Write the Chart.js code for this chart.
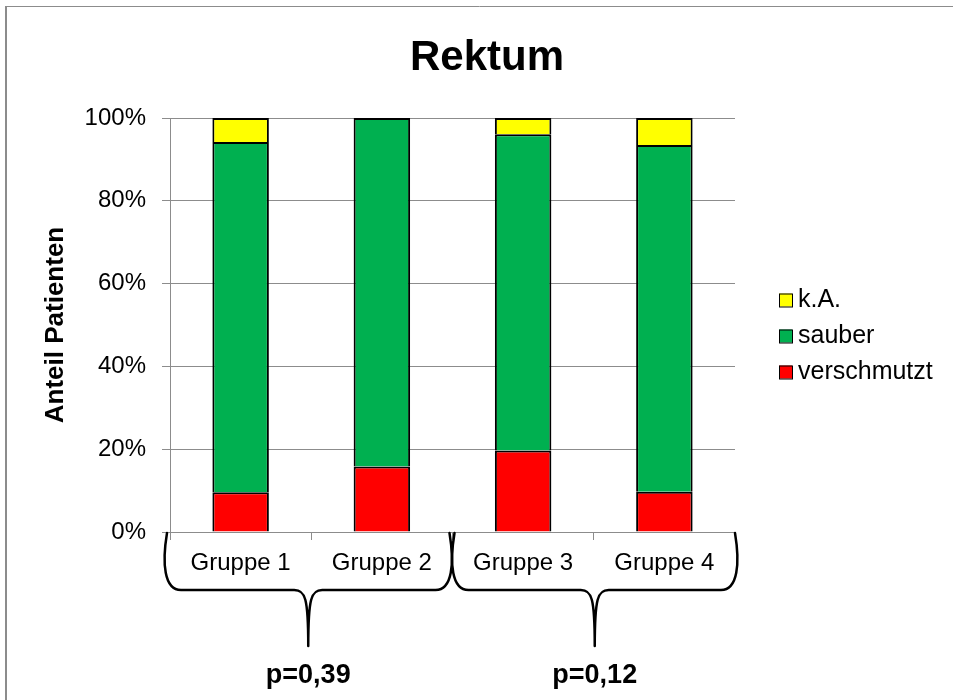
<!DOCTYPE html>
<html>
<head>
    <title>Rektum</title>
    <style>
        * {
            margin: 0;
            padding: 0;
            box-sizing: border-box;
        }

        body {
            background: #fff;
        }

        .chart-box {
            position: relative;
            width: 953px;
            height: 700px;
        }
    </style>
</head>
<body>
    <div class="chart-box">
        <canvas id="rektumChart"></canvas>
    </div>
    <script src="https://cdn.jsdelivr.net/npm/chart.js"></script>
    <script>
        // Werte (Anteil in %)
        var gruppen = ['Gruppe 1', 'Gruppe 2', 'Gruppe 3', 'Gruppe 4'];
        var verschmutzt = [9.6, 15.8, 19.7, 9.7];
        var sauber = [84.6, 84.2, 76.4, 83.8];
        var keineAngabe = [5.8, 0, 3.9, 6.5];
        var yTicks = [0, 20, 40, 60, 80, 100];
        // p-Werte fuer die Paare Gruppe 1/2 und Gruppe 3/4
        var pWerte = ['p=0,39', 'p=0,12'];

        Chart.defaults.font.family = '"Liberation Sans", Arial, sans-serif';
        Chart.defaults.color = '#000';

        // Titel, Legende, Klammern und p-Werte
        var extras = {
            id: 'extras',
            beforeDraw: function (chart) {
                var ctx = chart.ctx;
                ctx.save();
                ctx.fillStyle = '#fff';
                ctx.fillRect(0, 0, chart.width, chart.height);
                ctx.strokeStyle = '#8c8c8c';
                ctx.lineWidth = 2;
                ctx.beginPath();
                ctx.moveTo(6, chart.height);
                ctx.lineTo(6, 6);
                ctx.stroke();
                ctx.lineWidth = 1;
                ctx.beginPath();
                ctx.moveTo(6, 6.5);
                ctx.lineTo(chart.width, 6.5);
                ctx.stroke();
                ctx.restore();
            },
            afterDraw: function (chart) {
                var ctx = chart.ctx;
                var area = chart.chartArea;
                var x = chart.scales.x;
                ctx.save();

                // Titel
                ctx.fillStyle = '#000';
                ctx.font = 'bold 42px "Liberation Sans", Arial, sans-serif';
                ctx.textAlign = 'center';
                ctx.textBaseline = 'alphabetic';
                ctx.fillText('Rektum', 487, 70);

                // Legende (umgekehrte Reihenfolge)
                ctx.font = '25px "Liberation Sans", Arial, sans-serif';
                ctx.textAlign = 'left';
                var mitte = (area.top + area.bottom) / 2;
                var sets = chart.data.datasets.slice().reverse();
                sets.forEach(function (ds, k) {
                    var base = mitte - 18 + 36 * k;
                    var lx = area.right + 44;
                    ctx.fillStyle = ds.backgroundColor;
                    ctx.fillRect(lx, base - 13.5, 13, 13);
                    ctx.strokeStyle = '#000';
                    ctx.lineWidth = 1;
                    ctx.strokeRect(lx + 0.5, base - 13, 13, 13);
                    ctx.fillStyle = '#000';
                    ctx.fillText(ds.label, lx + 19, base);
                });

                // geschweifte Klammern unter den Gruppenpaaren
                var grenze = (x.getPixelForValue(1) + x.getPixelForValue(2)) / 2;
                var paare = [[area.left - 3, grenze - 3], [grenze + 2, area.right]];
                var y0 = area.bottom + 1;
                var y1 = area.bottom + 58;
                var y2 = area.bottom + 114;
                ctx.strokeStyle = '#000';
                ctx.lineWidth = 2.5;
                ctx.lineCap = 'round';
                paare.forEach(function (p, i) {
                    var a = p[0], b = p[1], m = (a + b) / 2;
                    ctx.beginPath();
                    ctx.moveTo(a, y0);
                    ctx.bezierCurveTo(a - 5, y0 + 30, a - 3, y1, a + 14, y1);
                    ctx.lineTo(m - 14, y1);
                    ctx.bezierCurveTo(m - 3, y1, m, y1 + 8, m, y2);
                    ctx.moveTo(m, y2);
                    ctx.bezierCurveTo(m, y1 + 8, m + 3, y1, m + 14, y1);
                    ctx.lineTo(b - 14, y1);
                    ctx.bezierCurveTo(b + 3, y1, b + 5, y0 + 30, b, y0);
                    ctx.stroke();

                    ctx.fillStyle = '#000';
                    ctx.font = 'bold 27px "Liberation Sans", Arial, sans-serif';
                    ctx.textAlign = 'center';
                    ctx.fillText(pWerte[i], m, area.bottom + 151);
                });
                ctx.restore();
            }
        };

        var ctx = document.getElementById('rektumChart').getContext('2d');
        var rektumChart = new Chart(ctx, {
            type: 'bar',
            data: {
                labels: gruppen,
                datasets: [{
                    label: 'verschmutzt',
                    data: verschmutzt,
                    backgroundColor: '#ff0000'
                }, {
                    label: 'sauber',
                    data: sauber,
                    backgroundColor: '#00b050'
                }, {
                    label: 'k.A.',
                    data: keineAngabe,
                    backgroundColor: '#ffff00'
                }]
            },
            options: {
                responsive: true,
                maintainAspectRatio: false,
                animation: false,
                layout: {
                    padding: { top: 118, right: 218, bottom: 0, left: 0 }
                },
                datasets: {
                    bar: {
                        borderColor: '#000',
                        borderWidth: 2,
                        barPercentage: 0.4,
                        categoryPercentage: 1
                    }
                },
                plugins: {
                    legend: { display: false },
                    title: { display: false },
                    tooltip: { enabled: false }
                },
                scales: {
                    x: {
                        stacked: true,
                        afterFit: function (s) { s.height = 168; },
                        grid: {
                            drawOnChartArea: false,
                            drawTicks: true,
                            tickLength: 8,
                            color: '#8c8c8c'
                        },
                        border: { color: '#8c8c8c' },
                        ticks: {
                            font: { size: 24 },
                            padding: 9
                        }
                    },
                    y: {
                        stacked: true,
                        min: 0,
                        max: 100,
                        afterFit: function (s) { s.width = 170; },
                        afterBuildTicks: function (s) {
                            s.ticks = yTicks.map(function (v) { return { value: v }; });
                        },
                        grid: {
                            color: '#8c8c8c',
                            tickLength: 8
                        },
                        border: { color: '#8c8c8c' },
                        ticks: {
                            font: { size: 24 },
                            padding: 16,
                            callback: function (v) { return v + '%'; }
                        },
                        title: {
                            display: true,
                            text: 'Anteil Patienten',
                            font: { size: 26, weight: 'bold' },
                            padding: { top: 40, bottom: 0 }
                        }
                    }
                }
            },
            plugins: [extras]
        });
    </script>
</body>
</html>
